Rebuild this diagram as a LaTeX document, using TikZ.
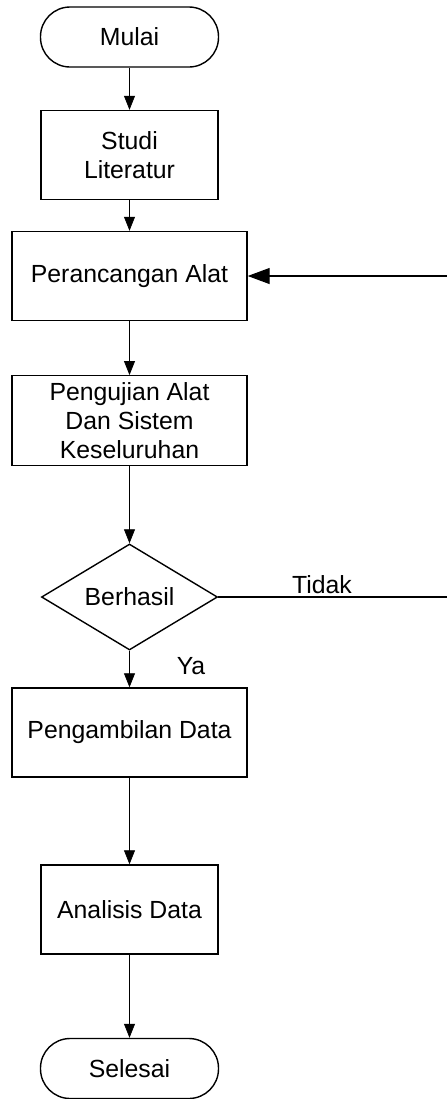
\documentclass[tikz,border=0pt]{standalone}
\usepackage{fontspec}
\setmainfont{Liberation Sans}
\usetikzlibrary{shapes.geometric,arrows.meta}
\begin{document}
\begin{tikzpicture}[x=0.5pt,y=-0.5pt,
  font=\fontsize{12.4}{14.5}\selectfont,
  box/.style={draw, rectangle, line width=0.7pt, align=center, minimum height=44.5pt},
  term/.style={draw, rectangle, rounded corners=14.8pt, line width=0.7pt, minimum width=89pt, minimum height=30pt},
  cond/.style={draw, diamond, aspect=1.66, line width=0.7pt, inner sep=0pt, minimum width=88pt, minimum height=53pt},
  flow/.style={-{Triangle[length=7pt,width=5.5pt]}, line width=0.4pt}]
\useasboundingbox (0,0) rectangle (446,1099);
\node[term] (mulai) at (129.5,37) {Mulai};
\node[box, minimum width=88.5pt] (studi) at (129.5,155) {Studi\\Literatur};
\node[box, minimum width=117.5pt] (rancang) at (129.5,276) {Perancangan Alat};
\node[box, minimum width=117.5pt] (uji) at (129.5,420.5) {Pengujian Alat\\Dan Sistem\\Keseluruhan};
\node[cond] (hasil) at (129.5,597) {Berhasil};
\node[box, minimum width=117.5pt] (ambil) at (129.5,732.5) {Pengambilan Data};
\node[box, minimum width=88.5pt] (analisis) at (129.5,909.5) {Analisis Data};
\node[term] (selesai) at (129.5,1068.5) {Selesai};
\node[anchor=base, inner sep=0pt] (tidak) at (322,593) {Tidak};
\node[anchor=base, inner sep=0pt] (ya) at (191,674) {Ya};
\draw[flow] (mulai) -- (studi);
\draw[flow] (studi) -- (rancang);
\draw[flow] (rancang) -- (uji);
\draw[flow] (uji) -- (hasil);
\draw[flow] (hasil) -- (ambil);
\draw[flow] (ambil) -- (analisis);
\draw[flow] (analisis) -- (selesai);
% jalur kembali jika tidak berhasil
\draw[line width=0.6pt, -{Triangle[length=11pt,width=8pt]}] (hasil.east) -- (452,597) |- (rancang.east);
\end{tikzpicture}
\end{document}
